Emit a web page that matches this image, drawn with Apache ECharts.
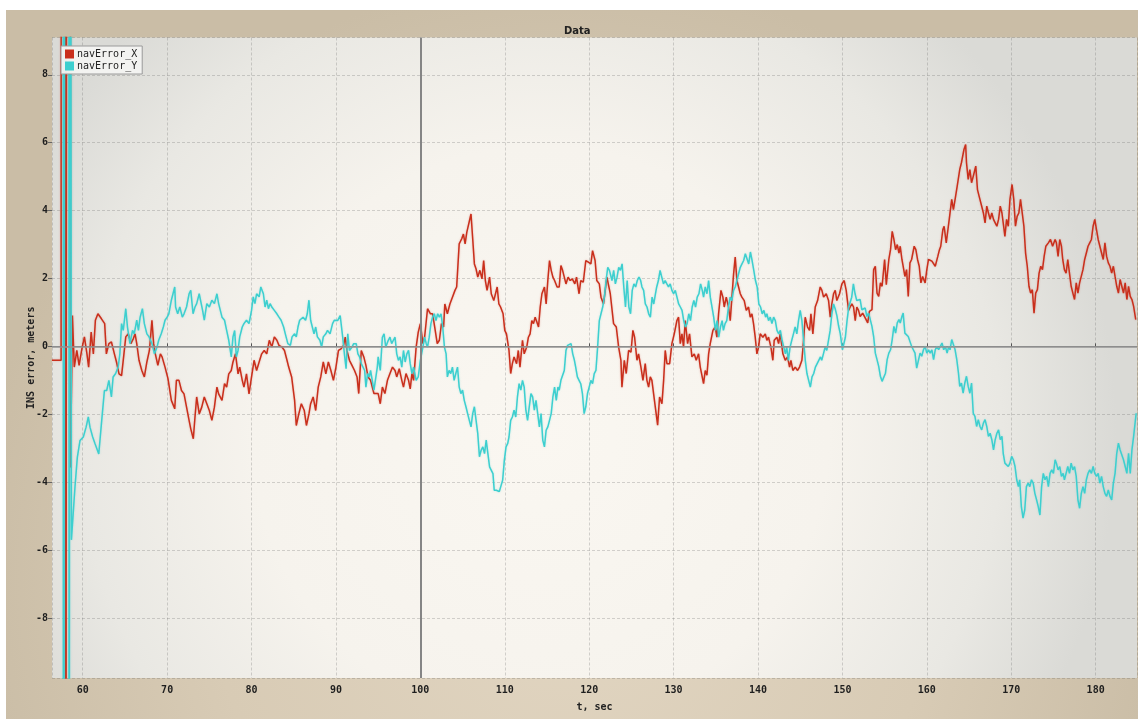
<!DOCTYPE html>
<html>
<head>
<meta charset="utf-8">
<script src="https://cdn.jsdelivr.net/npm/echarts@6/dist/echarts.min.js"></script>
<style>
html,body{margin:0;padding:0;background:#ffffff;}
#chart{width:1138px;height:719px;}
</style>
</head>
<body>
<div id="chart"></div>
<script>
// ---- data (time in sec, value in meters) ----
const chartTitle = "Data";
const xAxisName = "t, sec";
const yAxisName = "INS error, meters";
const seriesNames = ["navError_X", "navError_Y"];
const xRange = [56.36, 184.9];
const yRange = [-9.77, 9.1];
const cursorT = 100;

const navErrorX = [
[56.36,-0.41],[57.44,-0.41],[57.47,40],[57.95,40],[57.98,-40],[58.1,-40],[58.13,40],[58.5,40],[58.55,-3.57],[58.78,0.91],
[59.0,-0.61],[59.3,-0.12],[59.57,-0.56],[59.9,-0.07],[60.2,0.28],[60.5,-0.22],[60.7,-0.61],[61.0,0.42],[61.26,-0.22],[61.5,0.77],[61.8,0.96],[62.2,0.82],[62.6,0.67],[62.8,-0.22],[63.1,0.08],[63.4,0.13],[63.75,-0.22],[64.0,-0.46],[64.3,-0.81],[64.6,-0.86],[64.8,-0.41],[65.1,0.28],[65.4,0.37],[65.7,0.08],[66.0,0.23],[66.2,0.37],[66.4,0.08],[66.67,-0.41],[67.0,-0.71],[67.3,-0.9],[67.6,-0.46],[67.9,-0.12],[68.2,0.77],[68.4,0.08],[68.6,-0.22],[68.9,-0.56],[69.2,-0.22],[69.4,-0.31],[69.75,-0.61],
[70.1,-0.95],[70.5,-1.59],[70.9,-1.84],[71.1,-1.0],[71.4,-1.0],[71.7,-1.3],[72.0,-1.4],[72.3,-1.79],[72.6,-2.18],[72.8,-2.43],[73.1,-2.72],[73.3,-2.08],[73.5,-1.49],[73.8,-1.99],[74.1,-1.79],[74.4,-1.49],[74.7,-1.69],[75.0,-1.89],[75.3,-2.18],[75.6,-1.79],[75.9,-1.2],[76.1,-1.4],[76.5,-1.59],[76.8,-1.1],[77.05,-1.2],[77.3,-0.81],[77.6,-0.71],[77.8,-0.46],[78.1,-0.22],[78.4,-0.81],[78.6,-0.61],[78.9,-1.0],[79.1,-1.2],[79.4,-0.81],[79.7,-1.4],
[80.0,-0.9],[80.3,-0.41],[80.6,-0.71],[80.9,-0.46],[81.2,-0.22],[81.5,-0.12],[81.8,-0.22],[82.1,0.18],[82.4,-0.02],[82.7,0.28],[83.0,0.18],[83.25,0.03],[83.6,-0.02],[83.9,-0.12],[84.2,-0.41],[84.4,-0.61],[84.75,-0.9],[85.1,-1.59],[85.3,-2.33],[85.6,-1.99],[85.9,-1.69],[86.25,-1.89],[86.5,-2.33],[86.8,-1.99],[87.0,-1.69],[87.3,-1.49],[87.6,-1.89],[87.9,-1.2],[88.2,-0.9],[88.5,-0.46],[88.8,-0.81],[89.1,-0.46],[89.4,-0.71],[89.7,-1.0],
[90.0,-0.61],[90.3,-0.12],[90.6,-0.07],[90.9,0.03],[91.1,0.27],[91.3,-0.12],[91.6,-0.41],[91.9,-0.56],[92.2,-0.71],[92.5,-0.9],[92.7,-1.39],[93.0,-0.12],[93.3,-0.31],[93.55,-0.56],[93.8,-0.9],[94.1,-1.0],[94.5,-1.39],[94.7,-1.34],[95.0,-1.39],[95.25,-1.69],[95.5,-1.2],[95.8,-1.39],[96.1,-1.0],[96.4,-0.8],[96.7,-0.61],[97.0,-0.71],[97.2,-0.9],[97.5,-0.66],[97.8,-1.0],[98.0,-1.2],[98.3,-0.8],[98.6,-1.0],[98.8,-1.25],[99.0,-0.8],[99.2,-1.0],[99.5,-0.02],[99.75,0.42],
[100.0,0.67],[100.3,0.08],[100.5,0.27],[100.85,1.11],[101.2,0.96],[101.45,0.96],[101.7,0.57],[102.0,0.08],[102.25,0.18],[102.5,0.67],[102.75,0.57],[102.9,1.25],[103.2,0.96],[103.5,1.25],[103.8,1.45],[104.1,1.65],[104.3,1.75],[104.6,3.02],[104.9,3.17],[105.1,3.31],[105.3,3.02],[105.5,3.36],[105.7,3.31],[106.0,3.9],[106.2,3.17],[106.4,2.43],[106.6,2.28],[106.8,2.04],[107.05,2.24],[107.3,1.99],[107.5,2.53],[107.7,1.94],[107.9,1.65],[108.2,2.04],[108.4,1.55],[108.7,1.35],[108.9,1.55],[109.1,1.75],[109.3,1.25],[109.5,1.16],[109.8,0.96],
[110.0,0.47],[110.2,0.37],[110.5,-0.12],[110.7,-0.8],[110.9,-0.51],[111.1,-0.31],[111.4,-0.51],[111.6,-0.12],[111.8,-0.61],[112.1,0.18],[112.3,-0.22],[112.6,-0.02],[112.8,0.27],[113.0,0.37],[113.2,0.76],[113.4,0.67],[113.6,0.86],[113.8,0.72],[114.0,0.57],[114.2,1.16],[114.4,1.55],[114.7,1.75],[114.9,1.25],[115.1,1.94],[115.3,2.53],[115.5,2.24],[115.7,2.04],[115.9,1.94],[116.2,1.75],[116.45,1.75],[116.65,2.38],[116.85,2.24],[117.05,2.24],[117.25,1.84],[117.5,2.04],[117.75,1.94],[118.0,1.99],[118.3,1.84],[118.5,2.04],[118.8,1.55],[119.0,1.94],[119.3,1.89],[119.6,2.53],[119.9,2.48],
[120.2,2.43],[120.4,2.82],[120.7,2.53],[120.9,1.94],[121.2,1.84],[121.4,1.45],[121.7,1.25],[122.1,2.04],[122.5,1.55],[122.89,0.67],[123.21,0.57],[123.49,-0.02],[123.76,-0.41],[123.88,-1.2],[124.16,-0.41],[124.39,-0.8],[124.67,-0.12],[124.95,-0.17],[125.18,0.47],[125.38,0.27],[125.66,-0.41],[125.85,-0.22],[126.13,-0.61],[126.37,-1.0],[126.64,-0.51],[126.84,-1.0],[127.04,-1.2],[127.24,-0.9],[127.43,-1.0],[127.63,-1.39],[127.83,-1.78],[128.11,-2.32],[128.34,-1.49],[128.62,-1.69],[128.82,-1.0],[129.01,-0.12],[129.21,-0.51],[129.53,-0.51],[129.8,0.08],
[130.08,0.37],[130.39,0.76],[130.59,0.86],[130.79,0.08],[130.99,0.37],[131.18,-0.02],[131.38,0.76],[131.66,0.08],[131.89,0.37],[132.17,-0.31],[132.45,-0.22],[132.68,-0.41],[132.96,-0.22],[133.16,-0.61],[133.36,-0.61],[133.55,-1.1],[133.75,-0.71],[133.95,-0.85],[134.15,-0.22],[134.34,0.08],[134.66,0.47],[134.93,0.57],[135.13,0.27],[135.33,0.96],[135.61,1.65],[135.84,1.45],[136.0,1.16],[136.24,1.45],[136.51,1.16],[136.71,0.76],[136.91,1.45],[137.11,2.14],[137.3,2.63],[137.5,1.94],[137.7,1.75],[137.9,1.55],[138.09,1.45],[138.37,1.35],[138.61,1.06],[138.88,1.16],[139.08,0.86],[139.28,0.96],[139.47,0.67],[139.67,0.27],[139.87,-0.22],
[140.07,-0.02],[140.26,0.37],[140.58,0.27],[140.86,0.37],[141.05,0.18],[141.25,0.27],[141.53,-0.02],[141.76,-0.41],[141.92,0.18],[142.24,0.27],[142.44,0.08],[142.63,0.37],[142.95,-0.22],[143.23,-0.41],[143.5,-0.31],[143.74,-0.61],[143.9,-0.41],[144.13,-0.71],[144.41,-0.61],[144.69,-0.71],[144.92,-0.61],[145.2,-0.41],[145.4,0.18],[145.59,0.86],[145.87,0.57],[146.11,0.47],[146.27,0.96],[146.5,0.37],[146.78,1.16],[147.06,1.35],[147.37,1.75],[147.57,1.65],[147.77,1.45],[148.08,1.55],[148.36,1.35],[148.56,0.86],[148.75,1.25],[148.95,1.55],[149.15,1.65],[149.34,1.35],[149.66,1.55],[149.94,1.84],
[150.21,1.94],[150.45,1.65],[150.73,1.06],[150.92,1.16],[151.12,1.25],[151.32,1.16],[151.52,0.76],[151.71,1.16],[151.91,1.06],[152.1,0.88],[152.4,0.98],[152.7,0.84],[153.0,0.69],[153.2,1.03],[153.5,1.08],[153.7,2.26],[153.9,2.36],[154.1,1.57],[154.3,1.47],[154.5,1.87],[154.7,1.77],[155.0,2.56],[155.2,1.82],[155.5,2.56],[155.7,2.85],[155.9,3.39],[156.1,3.15],[156.3,2.85],[156.5,3.0],[156.7,2.75],[156.85,2.95],[157.05,2.56],[157.2,2.36],[157.4,2.06],[157.6,2.26],[157.8,1.47],[158.0,2.46],[158.2,2.56],[158.5,2.95],[158.7,2.85],[158.9,2.56],[159.1,2.36],[159.3,1.87],[159.5,2.06],[159.8,1.87],
[160.0,2.26],[160.2,2.56],[160.4,2.61],[160.6,2.51],[160.8,2.56],[161.0,2.36],[161.3,2.65],[161.5,2.85],[161.65,2.95],[161.9,3.44],[162.05,3.54],[162.3,3.05],[162.45,3.34],[162.7,3.83],[162.95,4.33],[163.15,4.03],[163.35,4.33],[163.6,4.72],[163.9,5.21],[164.1,5.41],[164.4,5.8],[164.6,5.95],[164.7,5.41],[164.9,4.92],[165.1,5.21],[165.3,4.82],[165.5,5.01],[165.7,5.21],[165.8,5.31],[166.0,4.62],[166.2,4.42],[166.5,4.13],[166.7,3.93],[166.9,3.64],[167.1,4.13],[167.3,3.93],[167.5,3.74],[167.7,3.93],[167.9,3.74],[168.1,3.64],[168.3,3.54],[168.5,3.74],[168.7,4.13],[168.9,3.93],[169.1,3.54],[169.25,3.24],[169.45,3.74],[169.65,3.54],[169.85,4.33],
[170.1,4.77],[170.3,4.33],[170.5,3.54],[170.7,3.83],[170.9,3.93],[171.1,4.33],[171.3,4.33],[171.5,3.54],[171.7,2.75],[171.9,2.36],[172.1,1.77],[172.3,1.57],[172.5,1.67],[172.7,0.98],[172.9,1.57],[173.1,1.67],[173.3,2.16],[173.5,2.36],[173.7,2.26],[173.9,2.65],[174.1,2.95],[174.4,3.05],[174.65,3.15],[174.9,2.95],[175.2,3.15],[175.35,3.05],[175.55,2.65],[175.75,3.15],[175.95,2.95],[176.1,2.56],[176.3,2.26],[176.5,2.16],[176.7,2.56],[176.9,2.16],[177.1,1.77],[177.3,1.57],[177.5,1.38],[177.7,1.87],[177.9,1.57],[178.1,1.87],[178.3,1.87],[178.5,2.26],[178.7,2.56],[178.9,2.75],[179.1,2.95],[179.3,3.05],[179.5,3.15],[179.7,3.54],[179.9,3.74],
[180.1,3.44],[180.3,3.15],[180.5,2.95],[180.7,2.75],[180.9,2.56],[181.1,3.05],[181.3,2.65],[181.5,2.46],[181.7,2.36],[181.9,2.16],[182.1,2.36],[182.3,2.06],[182.5,1.77],[182.7,1.57],[182.9,1.97],[183.1,1.77],[183.3,1.57],[183.5,1.87],[183.7,1.38],[183.9,1.77],[184.1,1.47],[184.3,1.38],[184.5,1.18],[184.75,0.79]
];

const navErrorY = [
[57.68,40],[57.72,-40],[57.88,-40],[57.91,40],[58.36,40],[58.39,-40],[58.45,-40],[58.48,40],[58.66,-5.7],[59.08,-4.15],[59.36,-3.27],[59.68,-2.77],[60.07,-2.67],[60.4,-2.38],[60.66,-2.08],[60.86,-2.38],[61.18,-2.67],[61.46,-2.87],[61.9,-3.17],[62.25,-2.18],[62.57,-1.3],[62.84,-1.3],[63.1,-1.0],[63.4,-1.49],[63.6,-0.9],[63.9,-0.8],[64.2,-0.61],[64.4,-0.22],[64.6,0.67],[64.8,0.47],[65.1,1.11],[65.3,0.57],[65.6,0.08],[65.9,0.47],[66.1,0.37],[66.4,0.77],[66.6,0.47],[66.8,0.86],[67.07,1.11],[67.3,0.67],[67.6,0.37],[67.86,0.28],[68.2,0.08],[68.5,-0.22],[68.8,-0.02],[69.0,0.18],[69.3,0.37],[69.55,0.57],[69.75,0.77],
[70.0,0.86],[70.2,0.96],[70.5,1.36],[70.9,1.75],[71.0,1.16],[71.25,0.96],[71.5,1.16],[71.8,0.86],[72.0,0.96],[72.3,1.16],[72.6,1.55],[72.8,1.65],[73.07,0.96],[73.3,1.16],[73.5,1.26],[73.8,1.55],[74.0,1.55],[74.2,1.06],[74.4,0.77],[74.7,1.26],[75.0,1.16],[75.3,1.36],[75.6,1.26],[75.9,1.55],[76.1,1.26],[76.5,0.86],[76.8,0.77],[77.05,0.47],[77.3,0.18],[77.6,-0.31],[77.8,0.28],[78.0,0.47],[78.2,-0.31],[78.4,-0.12],[78.6,0.28],[78.9,0.57],[79.1,0.67],[79.4,0.77],[79.7,0.67],
[80.0,1.06],[80.2,1.46],[80.4,1.26],[80.6,1.55],[80.9,1.46],[81.1,1.75],[81.4,1.55],[81.6,1.16],[81.8,1.36],[82.0,1.11],[82.2,1.26],[82.4,1.16],[82.7,1.06],[83.0,0.96],[83.25,0.86],[83.5,0.77],[83.8,0.57],[84.0,0.37],[84.3,0.08],[84.6,0.03],[84.8,0.28],[85.1,0.37],[85.3,0.28],[85.5,0.57],[85.7,0.77],[85.9,0.77],[86.1,0.86],[86.4,0.77],[86.6,0.96],[86.8,1.36],[87.0,0.77],[87.2,0.57],[87.4,0.37],[87.6,0.57],[87.8,0.28],[88.1,0.18],[88.3,-0.02],[88.5,0.28],[88.8,0.37],[89.0,0.47],[89.3,0.37],[89.6,0.67],[89.8,0.77],
[90.2,0.76],[90.5,0.91],[90.8,0.27],[91.0,-0.22],[91.2,-0.66],[91.4,0.37],[91.6,-0.12],[91.9,-0.02],[92.1,0.08],[92.4,0.08],[92.6,-0.22],[92.8,-0.31],[93.0,-0.51],[93.4,-0.71],[93.55,-1.2],[93.75,-0.8],[93.95,-0.9],[94.1,-0.71],[94.3,-1.0],[94.5,-1.29],[94.9,-0.61],[95.0,-0.31],[95.25,-0.71],[95.5,0.27],[95.7,0.37],[95.9,-0.02],[96.2,0.18],[96.4,0.27],[96.6,0.08],[96.8,0.18],[97.0,0.27],[97.2,-0.22],[97.4,-0.41],[97.6,-0.31],[97.8,-0.61],[98.0,-0.12],[98.2,-0.46],[98.4,-0.22],[98.6,-0.12],[98.8,-0.51],[99.0,-0.8],[99.2,-0.61],[99.5,-1.0],[99.75,-0.9],
[100.0,-0.41],[100.3,-0.02],[100.5,0.27],[100.7,0.08],[100.85,-0.02],[101.05,0.27],[101.25,0.67],[101.45,0.86],[101.65,0.96],[101.85,0.76],[102.05,0.96],[102.25,0.86],[102.45,0.96],[102.65,0.57],[102.85,-0.02],[103.05,-0.22],[103.2,-0.9],[103.4,-0.71],[103.6,-0.8],[103.8,-0.61],[104.0,-1.0],[104.2,-0.8],[104.4,-0.61],[104.6,-1.2],[104.8,-1.39],[105.0,-1.29],[105.2,-1.59],[105.4,-1.78],[105.6,-1.98],[105.8,-2.18],[106.0,-2.37],[106.2,-1.98],[106.4,-1.78],[106.6,-2.18],[106.8,-2.57],[107.0,-3.25],[107.2,-3.06],[107.4,-2.96],[107.6,-3.16],[107.8,-2.76],[108.0,-3.16],[108.2,-3.55],[108.4,-3.55],[108.6,-3.75],[108.75,-4.24],[109.0,-4.24],[109.35,-4.28],[109.55,-4.33],[109.75,-3.94],[109.95,-3.35],
[110.15,-2.96],[110.35,-2.86],[110.5,-2.67],[110.7,-2.18],[110.9,-2.08],[111.1,-1.88],[111.3,-2.08],[111.5,-1.49],[111.7,-1.1],[111.9,-1.29],[112.1,-1.0],[112.3,-1.2],[112.5,-1.88],[112.7,-2.18],[112.9,-1.78],[113.1,-1.39],[113.3,-1.49],[113.5,-1.88],[113.7,-1.59],[113.9,-1.98],[114.1,-2.37],[114.3,-1.98],[114.5,-2.76],[114.7,-2.96],[114.9,-2.47],[115.1,-2.37],[115.3,-2.18],[115.5,-1.98],[115.7,-1.49],[115.9,-1.2],[116.1,-1.59],[116.3,-1.2],[116.45,-1.29],[116.65,-1.0],[116.85,-1.0],[117.05,-0.71],[117.25,-0.12],[117.45,0.03],[117.65,-0.02],[117.85,0.08],[118.05,-0.22],[118.25,-0.41],[118.4,-0.61],[118.6,-0.9],[118.8,-1.0],[119.0,-1.1],[119.2,-1.39],[119.4,-1.98],[119.6,-1.78],[119.8,-1.39],
[120.0,-1.2],[120.2,-1.0],[120.4,-1.1],[120.6,-0.8],[120.8,-0.71],[121.0,-0.02],[121.2,0.76],[121.4,0.96],[121.6,1.16],[121.8,1.45],[122.0,1.94],[122.2,2.33],[122.4,2.24],[122.7,1.94],[122.9,2.24],[123.1,1.84],[123.3,2.04],[123.5,2.33],[123.7,2.24],[123.9,2.43],[124.1,1.75],[124.3,1.16],[124.5,1.94],[124.7,1.16],[124.9,0.96],[125.1,1.65],[125.3,1.84],[125.5,1.75],[125.7,1.94],[125.9,2.04],[126.1,1.94],[126.25,1.75],[126.45,1.65],[126.65,1.25],[126.85,1.16],[127.05,0.96],[127.25,0.86],[127.45,1.45],[127.65,1.25],[127.85,1.55],[128.0,1.75],[128.2,1.94],[128.4,2.24],[128.6,2.04],[128.8,1.84],[129.0,1.94],[129.2,1.84],[129.4,1.75],[129.6,1.84],[129.8,1.65],
[130.0,1.55],[130.2,1.65],[130.4,1.45],[130.6,1.25],[130.8,1.16],[131.0,1.06],[131.2,0.76],[131.4,0.57],[131.6,0.67],[131.8,0.96],[132.0,0.76],[132.2,1.16],[132.4,1.35],[132.6,1.16],[132.8,1.45],[133.0,1.55],[133.2,1.84],[133.4,1.65],[133.55,1.45],[133.75,1.75],[133.95,1.55],[134.15,1.94],[134.35,1.45],[134.55,1.16],[134.75,0.86],[134.95,0.47],[135.15,0.76],[135.35,0.27],[135.55,0.57],[135.75,0.76],[135.9,0.47],[136.1,0.67],[136.3,0.76],[136.5,1.16],[136.7,1.45],[136.9,1.35],[137.1,1.65],[137.3,1.75],[137.5,1.94],[137.7,2.14],[137.9,2.33],[138.1,2.43],[138.3,2.53],[138.5,2.73],[138.7,2.78],[138.9,2.43],[139.1,2.78],[139.3,2.53],[139.5,2.24],[139.7,1.94],[139.9,1.75],
[140.1,1.25],[140.3,1.16],[140.5,0.96],[140.7,1.06],[140.9,0.86],[141.05,0.96],[141.25,0.76],[141.45,0.86],[141.65,0.67],[141.85,0.86],[142.05,0.76],[142.25,0.47],[142.45,0.37],[142.65,0.47],[142.85,0.18],[143.05,-0.02],[143.25,-0.22],[143.4,-0.02],[143.6,-0.41],[143.8,-0.02],[144.0,0.18],[144.2,0.37],[144.4,0.57],[144.6,0.37],[144.8,0.76],[145.0,1.06],[145.2,0.76],[145.4,0.18],[145.6,-0.41],[145.8,-0.8],[146.0,-1.0],[146.2,-1.2],[146.4,-0.9],[146.6,-0.8],[146.8,-0.61],[147.0,-0.61],[147.2,-0.41],[147.4,-0.31],[147.55,-0.41],[147.75,-0.22],[147.95,-0.02],[148.15,-0.12],[148.35,0.18],[148.55,0.47],[148.75,0.96],[148.95,1.25],[149.15,1.1],[149.35,0.9],[149.55,0.6],[149.75,0.37],
[150.0,-0.1],[150.35,0.27],[150.55,0.76],[150.75,1.16],[150.9,1.16],[151.1,1.45],[151.3,1.84],[151.5,1.55],[151.7,1.35],[151.9,1.3],[152.1,1.38],[152.3,1.08],[152.5,1.03],[152.7,1.13],[152.9,0.88],[153.1,0.98],[153.3,0.79],[153.5,0.59],[153.7,0.29],[153.9,-0.2],[154.1,-0.39],[154.3,-0.59],[154.5,-0.88],[154.7,-1.03],[154.9,-1.08],[155.1,-0.79],[155.3,-0.39],[155.5,-0.2],[155.7,-0.1],[155.9,0.2],[156.1,0.59],[156.3,0.39],[156.5,0.69],[156.7,0.79],[156.85,0.69],[157.05,0.88],[157.2,0.98],[157.4,0.39],[157.6,0.39],[157.8,0.29],[158.0,0.29],[158.2,0.0],[158.4,-0.1],[158.6,-0.2],[158.8,-0.64],[159.0,-0.59],[159.2,-0.2],[159.4,-0.29],[159.6,-0.1],[159.8,0.0],
[160.0,-0.2],[160.2,-0.1],[160.4,-0.2],[160.6,-0.1],[160.8,-0.39],[161.0,-0.1],[161.2,0.0],[161.4,-0.1],[161.6,0.0],[161.8,0.1],[162.0,-0.1],[162.2,0.0],[162.4,-0.2],[162.6,0.0],[162.75,-0.1],[162.95,0.2],[163.15,0.2],[163.35,-0.1],[163.55,-0.39],[163.75,-0.79],[163.9,-1.18],[164.1,-1.08],[164.3,-1.38],[164.5,-1.08],[164.7,-0.88],[164.9,-1.18],[165.1,-1.38],[165.3,-1.08],[165.5,-1.97],[165.7,-2.06],[165.9,-2.36],[166.1,-2.16],[166.3,-2.36],[166.5,-2.46],[166.7,-2.26],[166.9,-2.16],[167.1,-2.36],[167.3,-2.65],[167.5,-2.56],[167.7,-2.75],[167.9,-3.05],[168.1,-2.75],[168.3,-2.56],[168.5,-2.46],[168.7,-2.75],[168.9,-2.65],[169.05,-3.15],[169.25,-3.44],[169.45,-3.44],[169.65,-3.54],[169.85,-3.44],
[170.05,-3.24],[170.25,-3.34],[170.45,-3.54],[170.65,-3.93],[170.85,-4.13],[171.0,-3.93],[171.2,-4.72],[171.4,-5.06],[171.6,-4.82],[171.8,-4.13],[172.0,-4.03],[172.2,-4.13],[172.4,-3.93],[172.6,-4.03],[172.8,-4.33],[173.0,-4.52],[173.2,-4.72],[173.4,-4.97],[173.6,-4.13],[173.8,-3.74],[174.0,-3.93],[174.2,-3.83],[174.4,-4.13],[174.6,-3.74],[174.8,-3.64],[175.0,-3.74],[175.2,-3.34],[175.35,-3.44],[175.55,-3.64],[175.75,-3.54],[175.95,-3.83],[176.15,-3.74],[176.3,-3.93],[176.5,-3.74],[176.7,-3.54],[176.9,-3.74],[177.1,-3.44],[177.3,-3.64],[177.5,-3.54],[177.7,-3.83],[177.9,-4.52],[178.1,-4.77],[178.3,-4.33],[178.5,-4.13],[178.7,-4.33],[178.9,-3.93],[179.1,-3.74],[179.3,-3.64],[179.5,-3.74],[179.7,-3.54],[179.9,-3.74],
[180.1,-3.83],[180.3,-3.74],[180.5,-4.03],[180.7,-3.83],[180.9,-4.13],[181.1,-4.33],[181.3,-4.42],[181.5,-4.23],[181.7,-4.42],[181.9,-4.52],[182.1,-4.03],[182.3,-3.74],[182.5,-3.15],[182.7,-2.85],[182.9,-3.05],[183.1,-3.05],[183.3,-3.34],[183.5,-3.54],[183.7,-3.74],[183.9,-3.15],[184.1,-3.74],[184.3,-3.05],[184.5,-2.65],[184.8,-1.97]
];

// ---- chart ----
const seriesColors = ["#c92f1c", "#3dcfcf"];
const monoFont = "DejaVu Sans Mono";
const chart = echarts.init(document.getElementById('chart'), null, {renderer: 'canvas'});

const option = {
  animation: false,
  backgroundColor: '#ffffff',
  graphic: [
    {
      type: 'rect', z: -100, silent: true,
      shape: {x: 6, y: 10, width: 1132, height: 709},
      style: {
        fill: {
          type: 'radial', x: 0.5, y: 0.8, r: 0.85,
          colorStops: [
            {offset: 0, color: '#e2d6c2'},
            {offset: 0.6, color: '#d8cbb5'},
            {offset: 1, color: '#cabda6'}
          ]
        }
      }
    }
  ],
  title: {
    text: chartTitle,
    left: 559, top: 21,
    textStyle: {fontFamily: 'DejaVu Sans', fontSize: 10, fontWeight: 'bold', color: '#222'}
  },
  legend: {
    data: seriesNames,
    orient: 'vertical',
    left: 61, top: 46,
    z: 20,
    icon: 'rect',
    itemWidth: 9, itemHeight: 9, itemGap: 2,
    padding: [3, 5, 3, 4],
    backgroundColor: 'rgba(244,244,241,0.96)',
    borderColor: '#9a9a9a', borderWidth: 1,
    textStyle: {fontFamily: monoFont, fontSize: 10, color: '#222', padding: [0, 0, 0, -2]}
  },
  grid: {
    left: 52, top: 37.5, right: 1, bottom: 41,
    show: true,
    borderWidth: 0,
    backgroundColor: {
      type: 'radial', x: 0.45, y: 0.62, r: 0.9,
      colorStops: [
        {offset: 0, color: '#faf7f1'},
        {offset: 0.5, color: '#f6f3ed'},
        {offset: 0.8, color: '#e9e8e3'},
        {offset: 1, color: '#dadad6'}
      ]
    }
  },
  xAxis: {
    type: 'value',
    min: xRange[0], max: xRange[1],
    splitNumber: 13,
    name: xAxisName,
    nameLocation: 'middle',
    nameGap: 24,
    nameTextStyle: {fontFamily: monoFont, fontSize: 10, fontWeight: 'bold', color: '#222'},
    axisLine: {show: true, lineStyle: {color: '#777', width: 1}},
    axisTick: {show: true, inside: true, length: 3, lineStyle: {color: '#555'}},
    axisLabel: {
      showMinLabel: false, showMaxLabel: false,
      margin: 7,
      fontFamily: monoFont, fontSize: 10, fontWeight: 'bold', color: '#1e1e1e',
      formatter: v => (Math.abs(v - Math.round(v)) < 1e-6 && Math.round(v) % 10 === 0) ? String(Math.round(v)) : ''
    },
    splitLine: {show: true, lineStyle: {color: 'rgba(90,90,90,0.25)', width: 1, type: [3, 2]}}
  },
  yAxis: {
    type: 'value',
    min: yRange[0], max: yRange[1],
    splitNumber: 9,
    name: yAxisName,
    nameLocation: 'middle',
    nameGap: 16,
    nameMoveOverlap: false,
    nameRotate: 90,
    nameTextStyle: {fontFamily: monoFont, fontSize: 10, fontWeight: 'bold', color: '#222'},
    axisLine: {show: false},
    axisTick: {show: true, inside: false, length: 4, lineStyle: {color: '#666'}},
    axisLabel: {
      showMinLabel: false, showMaxLabel: false,
      margin: 4,
      fontFamily: monoFont, fontSize: 10, fontWeight: 'bold', color: '#1e1e1e',
      formatter: v => (Math.abs(v - Math.round(v)) < 1e-6 && Math.round(v) % 2 === 0) ? String(Math.round(v)) : ''
    },
    splitLine: {show: true, lineStyle: {color: 'rgba(90,90,90,0.25)', width: 1, type: [3, 2]}}
  },
  series: [
    {
      name: 'cursor',
      type: 'line',
      data: [],
      z: 1,
      silent: true,
      markLine: {
        silent: true,
        symbol: 'none',
        label: {show: false},
        lineStyle: {color: '#959595', type: 'solid', width: 1.6},
        data: [{yAxis: 0}, {xAxis: cursorT, lineStyle: {color: '#858585', width: 2}}]
      }
    },
    {
      name: seriesNames[0],
      type: 'line',
      data: navErrorX,
      z: 3,
      showSymbol: false,
      symbol: 'none',
      clip: true,
      color: seriesColors[0],
      lineStyle: {color: seriesColors[0], width: 1.5, shadowColor: 'rgba(201,47,28,0.35)', shadowBlur: 2}
    },
    {
      name: seriesNames[1],
      type: 'line',
      data: navErrorY,
      z: 4,
      showSymbol: false,
      symbol: 'none',
      clip: true,
      color: seriesColors[1],
      lineStyle: {color: seriesColors[1], width: 1.5, shadowColor: 'rgba(61,207,207,0.35)', shadowBlur: 2}
    }
  ]
};
chart.setOption(option);
</script>
</body>
</html>
